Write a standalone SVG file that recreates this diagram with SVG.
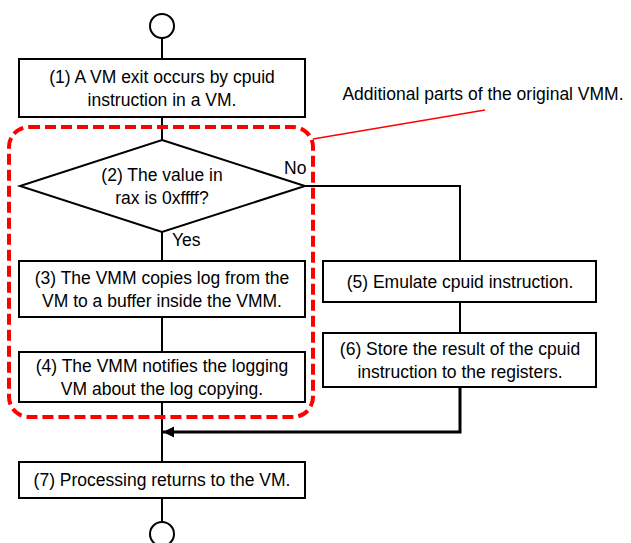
<svg xmlns="http://www.w3.org/2000/svg" width="631" height="543" viewBox="0 0 631 543">
  <style>
    .box { fill: #ffffff; stroke: #000000; stroke-width: 2; }
    .term { fill: #ffffff; stroke: #000000; stroke-width: 2; }
    .line { fill: none; stroke: #000000; stroke-width: 2; }
    .thick { fill: none; stroke: #000000; stroke-width: 3; }
    .label { font-family: "Liberation Sans", Arial, sans-serif; font-size: 17.5px; fill: #000000; }
    .mid { text-anchor: middle; }
    .region { fill: none; stroke: #ff0000; stroke-width: 4; stroke-dasharray: 11 5; }
    .callout { fill: none; stroke: #ff0000; stroke-width: 1.5; }
  </style>
  <defs>
    <marker id="arrow" markerUnits="userSpaceOnUse" markerWidth="12" markerHeight="12" refX="11" refY="6" orient="auto">
      <path d="M0,0.5 L11,6 L0,11.5 Z" fill="#000000"/>
    </marker>
  </defs>

  <rect width="631" height="543" fill="#ffffff"/>

  <!-- connectors -->
  <g id="connectors">
    <line class="line" x1="162" y1="38" x2="162" y2="59"/>
    <line class="line" x1="162" y1="117" x2="162" y2="140"/>
    <line class="line" x1="162" y1="232" x2="162" y2="261"/>
    <line class="line" x1="162" y1="317" x2="162" y2="352"/>
    <line class="line" x1="162" y1="402" x2="162" y2="462"/>
    <line class="line" x1="162" y1="498" x2="162" y2="522"/>
    <polyline class="line" points="305,186 460,186 460,261"/>
    <line class="line" x1="460" y1="302" x2="460" y2="333"/>
    <polyline class="thick" points="460,387 460,432 163,432" marker-end="url(#arrow)"/>
  </g>

  <!-- start terminal -->
  <g id="start">
    <circle class="term" cx="162" cy="26" r="12"/>
  </g>

  <!-- step 1 -->
  <g id="step1">
    <rect class="box" x="19" y="59" width="286" height="58"/>
    <text class="label mid" x="162" y="83">(1) A VM exit occurs by cpuid</text>
    <text class="label mid" x="162" y="106">instruction in a VM.</text>
  </g>

  <!-- decision 2 -->
  <g id="step2">
    <polygon class="box" points="162,140 305,186 162,232 20,186"/>
    <text class="label mid" x="162" y="181">(2) The value in</text>
    <text class="label mid" x="162" y="204">rax is 0xffff?</text>
    <text class="label" x="284" y="174">No</text>
    <text class="label" x="172" y="246">Yes</text>
  </g>

  <!-- step 3 -->
  <g id="step3">
    <rect class="box" x="19" y="261" width="286" height="56"/>
    <text class="label mid" x="162" y="284">(3) The VMM copies log from the</text>
    <text class="label mid" x="162" y="307">VM to a buffer inside the VMM.</text>
  </g>

  <!-- step 4 -->
  <g id="step4">
    <rect class="box" x="19" y="352" width="286" height="50"/>
    <text class="label mid" x="162" y="372">(4) The VMM notifies the logging</text>
    <text class="label mid" x="162" y="395">VM about the log copying.</text>
  </g>

  <!-- step 5 -->
  <g id="step5">
    <rect class="box" x="323" y="261" width="273" height="41"/>
    <text class="label mid" x="460" y="288">(5) Emulate cpuid instruction.</text>
  </g>

  <!-- step 6 -->
  <g id="step6">
    <rect class="box" x="323" y="333" width="273" height="54"/>
    <text class="label mid" x="460" y="355">(6) Store the result of the cpuid</text>
    <text class="label mid" x="460" y="378">instruction to the registers.</text>
  </g>

  <!-- step 7 -->
  <g id="step7">
    <rect class="box" x="19" y="462" width="286" height="36"/>
    <text class="label mid" x="162" y="486">(7) Processing returns to the VM.</text>
  </g>

  <!-- end terminal -->
  <g id="end">
    <circle class="term" cx="162" cy="534" r="12"/>
  </g>

  <!-- added-parts region with callout -->
  <g id="added-parts">
    <rect class="region" x="9" y="127" width="304" height="290" rx="20" ry="20"/>
    <line class="callout" x1="313" y1="139" x2="485" y2="110"/>
    <text class="label mid" x="483" y="100">Additional parts of the original VMM.</text>
  </g>
</svg>
